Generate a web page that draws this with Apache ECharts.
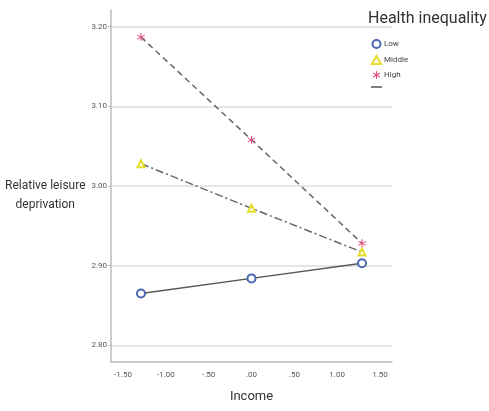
<!DOCTYPE html>
<html><head><meta charset="utf-8">
<script src="https://cdn.jsdelivr.net/npm/echarts@6/dist/echarts.min.js"></script>
<style>html,body{margin:0;padding:0;background:#fff}#c{width:489px;height:411px}</style>
</head><body><div id="c"></div>
<script>
const incomeLevels = [-1.29, 0, 1.29];
const lowValues = [2.865, 2.884, 2.903];
const middleValues = [3.028, 2.972, 2.917];
const highValues = [3.187, 3.058, 2.928];
const seriesNames = ['Low', 'Middle', 'High'];
const xTicks = [-1.5, -1, -0.5, 0, 0.5, 1, 1.5];
const xTickLabels = ['-1.50', '-1.00', '-.50', '.00', '.50', '1.00', '1.50'];
const yTicks = [2.8, 2.9, 3.0, 3.1, 3.2];
const yTickLabels = ['2.80', '2.90', '3.00', '3.10', '3.20'];

const starPath = 'path://M-1.2,-10L1.2,-10L1.2,10L-1.2,10Z' +
  'M8.06,6.04L-9.26,-3.96L-8.06,-6.04L9.26,3.96Z' +
  'M-9.26,3.96L8.06,-6.04L9.26,-3.96L-8.06,6.04Z';

const font = 'Roboto, sans-serif';
const chart = echarts.init(document.getElementById('c'), null, {renderer: 'canvas'});
function pts(vals){ return incomeLevels.map((x,i)=>[x, vals[i]]); }
chart.setOption({
  animation: false,
  backgroundColor: '#fff',
  grid: {left: 111, right: 97, top: 10, bottom: 49, containLabel: false, outerBoundsMode: 'none'},
  title: {text: 'Health inequality', left: 363, top: 6,
    textStyle: {fontFamily: font, fontSize: 16, fontWeight: 'normal', color: '#333'}},
  legend: {
    left: 366, top: 34, orient: 'vertical', itemGap: 6, itemWidth: 9, itemHeight: 8,
    textStyle: {fontFamily: font, fontSize: 8, color: '#444', padding: [0,0,0,-2]},
    data: [
      {name: 'Low', icon: 'emptyCircle'},
      {name: 'Middle', icon: 'emptyTriangle'},
      {name: 'High', icon: starPath}
    ]
  },
  graphic: [{type: 'line', shape: {x1: 371, y1: 87, x2: 382, y2: 87},
    style: {stroke: '#555', lineWidth: 1.5}}],
  xAxis: {
    type: 'value', min: -1.64, max: 1.64,
    name: 'Income', nameLocation: 'middle', nameGap: 28,
    nameTextStyle: {fontFamily: font, fontSize: 13, color: '#333'},
    axisLine: {onZero: false, lineStyle: {color: '#bbb', width: 1.5}},
    axisTick: {show: false},
    splitLine: {show: false},
    axisLabel: {customValues: xTicks, fontFamily: font, fontSize: 8, color: '#555', margin: 9,
      formatter: v => xTickLabels[xTicks.findIndex(t => Math.abs(t - v) < 1e-6)] || ''}
  },
  yAxis: {
    type: 'value', min: 2.779, max: 3.221,
    name: '\nRelative leisure\ndeprivation', nameLocation: 'middle', nameRotate: 0, nameGap: 64,
    nameTextStyle: {fontFamily: font, fontSize: 12, color: '#333', align: 'center', lineHeight: 19},
    axisLine: {show: true, onZero: false, lineStyle: {color: '#bbb', width: 1.5}},
    axisTick: {show: true, length: 3, customValues: yTicks, lineStyle: {color: '#bbb'}},
    splitLine: {show: true, lineStyle: {color: '#ddd', width: 1.5}},
    axisLabel: {customValues: yTicks, fontFamily: font, fontSize: 8, color: '#555', margin: 4,
      formatter: v => yTickLabels[yTicks.findIndex(t => Math.abs(t - v) < 1e-6)] || ''}
  },
  series: [
    {name: seriesNames[0], type: 'line', data: pts(lowValues), symbol: 'emptyCircle', symbolSize: 8,
      itemStyle: {color: '#4a67b0', borderWidth: 1.3},
      lineStyle: {color: '#555', width: 1.5, type: 'solid'}},
    {name: seriesNames[1], type: 'line', data: pts(middleValues), symbol: 'emptyTriangle', symbolSize: 7,
      itemStyle: {color: '#e6dc2a', borderWidth: 1.2},
      lineStyle: {color: '#666', width: 1.5, type: [8,3,2,3]}},
    {name: seriesNames[2], type: 'line', data: pts(highValues), symbol: starPath, symbolSize: 8,
      itemStyle: {color: '#e84a78'},
      lineStyle: {color: '#666', width: 1.5, type: [6,4]}}
  ]
});
</script></body></html>
